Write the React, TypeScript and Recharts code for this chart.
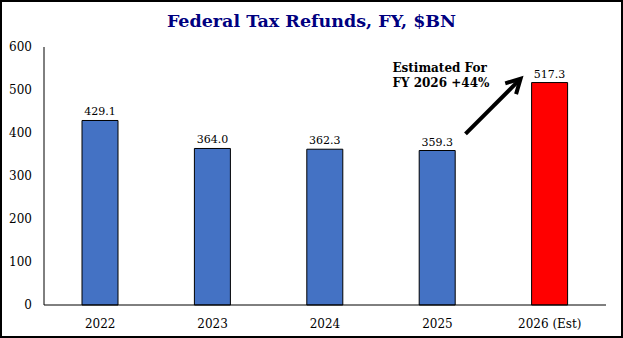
import React from 'react';
import { BarChart, Bar, XAxis, YAxis, Cell, LabelList, ReferenceLine, ReferenceDot } from 'recharts';

const categories = ['2022', '2023', '2024', '2025', '2026 (Est)'];
const refunds = [429.1, 364.0, 362.3, 359.3, 517.3];
const barColors = ['#4472C4', '#4472C4', '#4472C4', '#4472C4', '#FF0000'];
const yTicks = [0, 100, 200, 300, 400, 500, 600];
const title = 'Federal Tax Refunds, FY, $BN';
const noteLines = ['Estimated For', 'FY 2026 +44%'];
// annotation anchors ($BN values at given categories)
const arrowFrom = { x: '2025', y: 398 };
const arrowTo = { x: '2026 (Est)', y: 526 };
const notePos = { x: '2025', y: 542 };

const data = categories.map((c, i) => ({ category: c, value: refunds[i] }));

const FONT = "Georgia, 'DejaVu Serif', serif";

const ArrowShape = (props: any) => {
  const { x1: cx1, y1, x2: cx2, y2 } = props;
  const step = cx2 - cx1;
  const x1 = cx1 + 0.25 * step;
  const x2 = cx2 - 0.26 * step;
  const ang = Math.atan2(y2 - y1, x2 - x1);
  const len = 16;
  const spread = 0.5;
  const ax = x2 - len * Math.cos(ang - spread);
  const ay = y2 - len * Math.sin(ang - spread);
  const bx = x2 - len * Math.cos(ang + spread);
  const by = y2 - len * Math.sin(ang + spread);
  return (
    <g>
      <line x1={x1} y1={y1} x2={x2 - 1.5 * Math.cos(ang)} y2={y2 - 1.5 * Math.sin(ang)} stroke="#000" strokeWidth={4} />
      <path d={`M${ax},${ay} L${x2},${y2} L${bx},${by}`} fill="none" stroke="#000" strokeWidth={4} strokeLinejoin="miter" />
    </g>
  );
};

const NoteShape = (props: any) => {
  const { cx, cy } = props;
  const x = cx - 45;
  return (
    <text x={x} y={cy} fontFamily={FONT} fontWeight="bold" fontSize={12} fill="#000">
      {noteLines.map((l, i) => (
        <tspan key={i} x={x} dy={i === 0 ? 0 : 15}>{l}</tspan>
      ))}
    </text>
  );
};

export default function App() {
  return (
    <div style={{ position: 'absolute', left: 0, top: 0, width: 623, height: 338, background: '#fff' }}>
      <div
        style={{
          position: 'absolute', left: 0, top: 8, width: 623, textAlign: 'center',
          fontFamily: FONT, fontWeight: 'bold', fontSize: 17.5, color: '#00007F', lineHeight: '26px',
        }}
      >
        {title}
      </div>
      <div style={{ position: 'absolute', left: 0, top: 0 }}>
        <BarChart width={623} height={338} data={data} margin={{ top: 47, right: 17, bottom: 0, left: 0 }}>
          <XAxis
            dataKey="category"
            axisLine={{ stroke: '#000', strokeWidth: 1 }}
            tickLine={false}
            tickSize={0}
            tickMargin={14}
            height={33}
            tick={{ fontFamily: FONT, fontSize: 12, fill: '#000' }}
          />
          <YAxis
            domain={[0, 600]}
            ticks={yTicks}
            width={44}
            axisLine={{ stroke: '#000', strokeWidth: 1 }}
            tickLine={false}
            tickSize={0}
            tickMargin={12}
            tick={{ fontFamily: FONT, fontSize: 12, fill: '#000' }}
          />
          <Bar dataKey="value" barSize={36} stroke="#000" strokeWidth={1} isAnimationActive={false}>
            {data.map((d, i) => (
              <Cell key={d.category} fill={barColors[i]} />
            ))}
            <LabelList
              dataKey="value"
              position="top"
              offset={5}
              formatter={(v: any) => Number(v).toFixed(1)}
              style={{ fontFamily: FONT, fontSize: 11, fill: '#000' }}
            />
          </Bar>
          <ReferenceLine segment={[arrowFrom, arrowTo]} shape={ArrowShape} ifOverflow="visible" />
          <ReferenceDot x={notePos.x} y={notePos.y} r={0} shape={NoteShape} ifOverflow="visible" />
        </BarChart>
      </div>
      <div
        style={{
          position: 'absolute', left: 0, top: 0, width: 623, height: 338, boxSizing: 'border-box',
          border: '2px solid #000', pointerEvents: 'none',
        }}
      />
    </div>
  );
}
